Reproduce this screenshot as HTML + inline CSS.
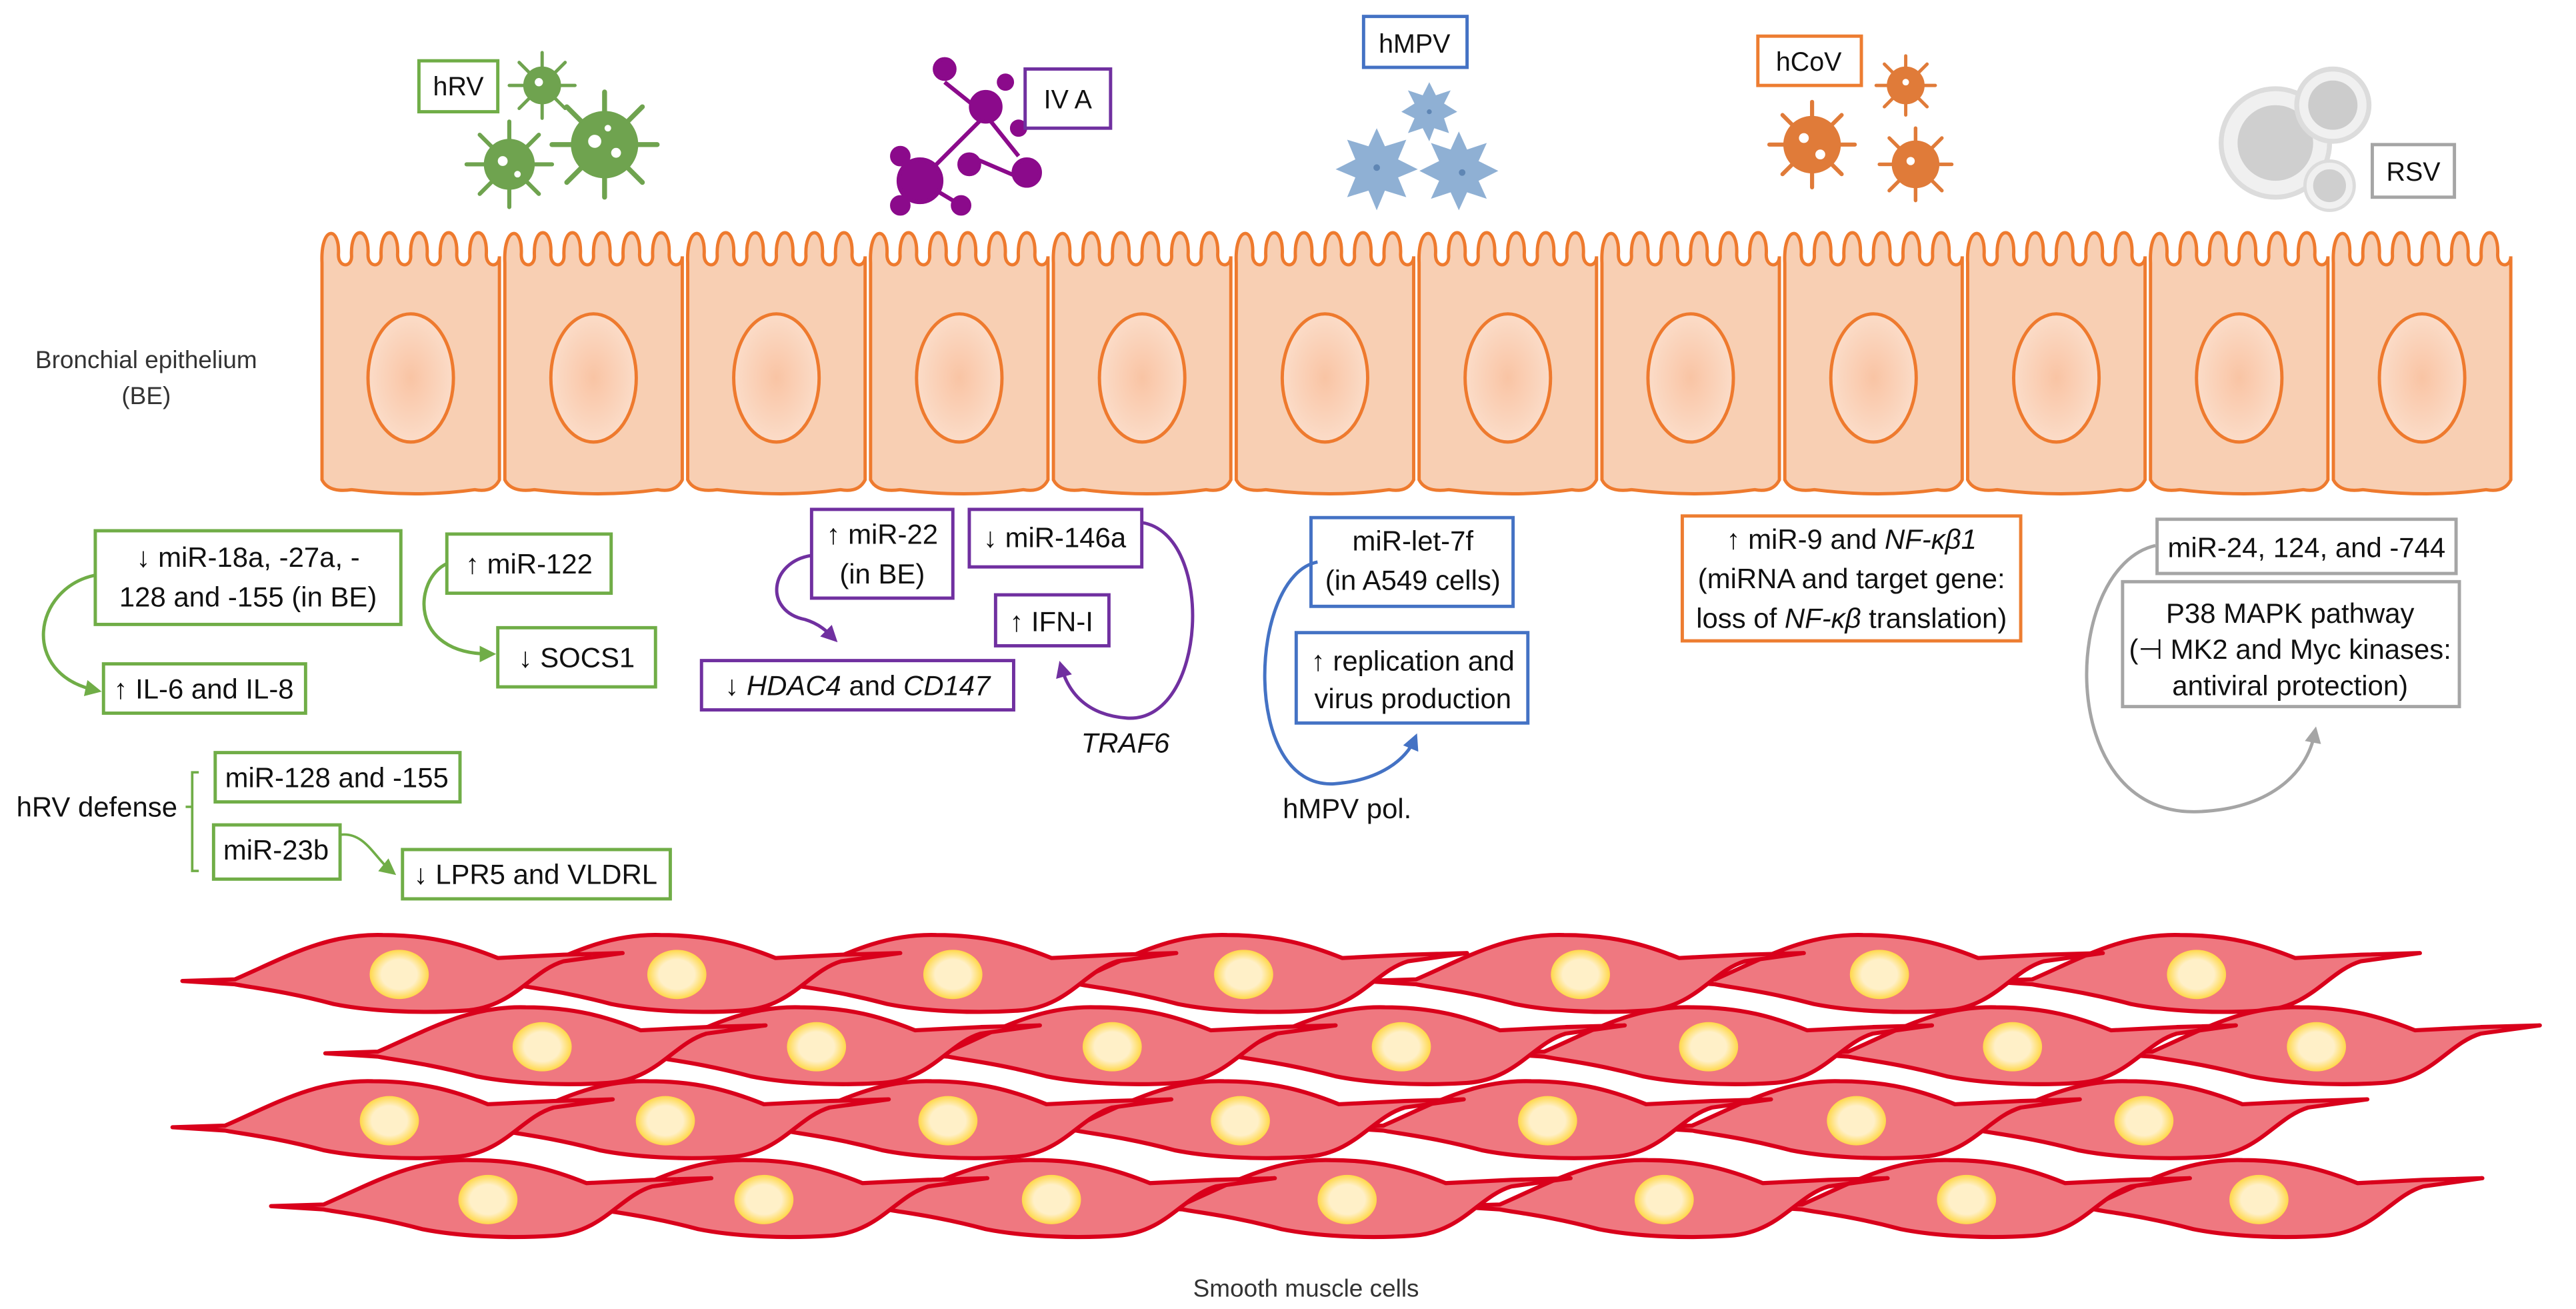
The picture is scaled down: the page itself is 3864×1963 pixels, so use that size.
<!DOCTYPE html>
<html><head><meta charset="utf-8"><style>
html,body{margin:0;padding:0;background:#fff;}
svg{display:block;}
text{font-family:"Liberation Sans",Arial,sans-serif;}
</style></head><body>
<svg width="3864" height="1963" viewBox="0 0 1568 796.6" preserveAspectRatio="none" xmlns="http://www.w3.org/2000/svg">
<defs>
<radialGradient id="nuc" cx="50%" cy="50%" r="50%"><stop offset="0" stop-color="#f9c4a4"/><stop offset="1" stop-color="#fbdcc8"/></radialGradient>
<radialGradient id="mnuc" cx="50%" cy="50%" r="50%"><stop offset="0.6" stop-color="#fff0c8"/><stop offset="1" stop-color="#ffd84a"/></radialGradient>
<g id="ecell">
<path d="M2,292 L2,160 C1,137 13,137 12,155 C12,163 20,163 20,156 C19,137 31,137 30,155 C30,163 38,163 38,156 C37,137 49,137 48,155 C48,163 56,163 56,156 C55,137 67,137 66,155 C66,163 74,163 74,156 C73,137 85,137 84,155 C84,163 92,163 92,156 C91,137 103,137 102,155 C102,163 110,163 110,156 L110,292 Q106,300 95,298 Q60,303 20,298 Q6,300 2,292 Z" fill="#f8cfb3" stroke="#ee7a2e" stroke-width="2"/>
<ellipse cx="56" cy="230" rx="26" ry="39" fill="url(#nuc)" stroke="#ee7a2e" stroke-width="2"/>
</g>
<g id="mcell">
<path d="M-132,4 L-100,3 C-70,-10 -45,-25 -10,-24 C20,-24 40,-18 60,-10 L100,-12 L136,-13 L100,-8 C80,-2 70,20 40,22 C10,24 -20,22 -40,18 C-70,10 -90,8 -100,6 Z" fill="#ef7880" stroke="#d9001b" stroke-width="2.5" stroke-linejoin="round"/>
<ellipse cx="0" cy="0" rx="18" ry="15" fill="url(#mnuc)"/>
</g>
<marker id="ag" markerWidth="10" markerHeight="10" refX="6" refY="5" orient="auto" markerUnits="userSpaceOnUse"><path d="M0,0 L10,5 L0,10 Z" fill="#70ad47"/></marker>
<marker id="ap" markerWidth="10" markerHeight="10" refX="6" refY="5" orient="auto" markerUnits="userSpaceOnUse"><path d="M0,0 L10,5 L0,10 Z" fill="#7030a0"/></marker>
<marker id="ab" markerWidth="10" markerHeight="10" refX="6" refY="5" orient="auto" markerUnits="userSpaceOnUse"><path d="M0,0 L10,5 L0,10 Z" fill="#4472c4"/></marker>
<marker id="ay" markerWidth="10" markerHeight="10" refX="6" refY="5" orient="auto" markerUnits="userSpaceOnUse"><path d="M0,0 L10,5 L0,10 Z" fill="#a5a5a5"/></marker>
</defs>

<use href="#ecell" x="194"/><use href="#ecell" x="305.3"/><use href="#ecell" x="416.6"/><use href="#ecell" x="527.9"/>
<use href="#ecell" x="639.2"/><use href="#ecell" x="750.5"/><use href="#ecell" x="861.8"/><use href="#ecell" x="973.1"/>
<use href="#ecell" x="1084.4"/><use href="#ecell" x="1195.7"/><use href="#ecell" x="1307"/><use href="#ecell" x="1418.3"/>

<text x="89" y="224" font-size="15" text-anchor="middle" fill="#333">Bronchial epithelium</text>
<text x="89" y="246" font-size="15" text-anchor="middle" fill="#333">(BE)</text>

<g fill="#6fa34f" stroke="#6fa34f" stroke-linecap="round">
<g transform="translate(330,52)"><g stroke-width="2"><line x1="-20" y1="0" x2="20" y2="0"/><line x1="0" y1="-20" x2="0" y2="20"/><line x1="-14" y1="-14" x2="14" y2="14"/><line x1="-14" y1="14" x2="14" y2="-14"/></g><circle r="11"/></g>
<g transform="translate(310,100)"><g stroke-width="2.5"><line x1="-26" y1="0" x2="26" y2="0"/><line x1="0" y1="-26" x2="0" y2="26"/><line x1="-18" y1="-18" x2="18" y2="18"/><line x1="-18" y1="18" x2="18" y2="-18"/></g><circle r="15"/></g>
<g transform="translate(368,88)"><g stroke-width="3"><line x1="-32" y1="0" x2="32" y2="0"/><line x1="0" y1="-32" x2="0" y2="32"/><line x1="-23" y1="-23" x2="23" y2="23"/><line x1="-23" y1="23" x2="23" y2="-23"/></g><circle r="20"/></g>
</g>
<g fill="#fff"><circle cx="328" cy="50" r="2.5"/><circle cx="306" cy="98" r="3"/><circle cx="315" cy="106" r="2"/><circle cx="362" cy="86" r="4"/><circle cx="375" cy="93" r="3"/><circle cx="370" cy="78" r="2"/></g>

<g fill="#8b0a8b" stroke="#8b0a8b" stroke-width="2.5">
<line x1="560" y1="110" x2="600" y2="70"/><line x1="600" y1="70" x2="620" y2="95"/><line x1="560" y1="110" x2="548" y2="125"/><line x1="590" y1="95" x2="625" y2="110"/><line x1="575" y1="50" x2="600" y2="70"/><line x1="560" y1="110" x2="585" y2="125"/>
<circle cx="560" cy="110" r="13"/><circle cx="600" cy="65" r="9"/><circle cx="575" cy="42" r="6"/><circle cx="590" cy="100" r="6"/><circle cx="625" cy="105" r="8"/><circle cx="548" cy="95" r="5"/><circle cx="548" cy="125" r="5"/><circle cx="585" cy="125" r="5"/><circle cx="612" cy="50" r="4"/><circle cx="620" cy="78" r="4"/>
</g>

<g fill="#8fb0d4">
<polygon points="870,50 874,58 883,55 879,63 887,68 879,72 882,81 873,78 870,86 866,78 857,81 861,72 853,68 861,63 857,55 866,58"/>
<polygon points="838,78 843,89 856,85 851,97 863,103 851,108 856,120 843,116 838,128 833,116 820,120 825,108 813,103 825,97 820,85 833,89"/>
<polygon points="888,80 893,91 905,87 900,98 912,104 900,110 905,121 893,117 888,128 883,117 871,121 876,110 864,104 876,98 871,87 883,91"/>
</g>
<g fill="#5f86b4"><circle cx="838" cy="102" r="2"/><circle cx="890" cy="105" r="2"/><circle cx="870" cy="68" r="1.5"/></g>

<g fill="#e07b39" stroke="#e07b39" stroke-linecap="round">
<g transform="translate(1103,88)"><g stroke-width="2.5"><line x1="-26" y1="0" x2="26" y2="0"/><line x1="0" y1="-26" x2="0" y2="26"/><line x1="-18" y1="-18" x2="18" y2="18"/><line x1="-18" y1="18" x2="18" y2="-18"/></g><circle r="17"/></g>
<g transform="translate(1160,52)"><g stroke-width="2"><line x1="-18" y1="0" x2="18" y2="0"/><line x1="0" y1="-18" x2="0" y2="18"/><line x1="-13" y1="-13" x2="13" y2="13"/><line x1="-13" y1="13" x2="13" y2="-13"/></g><circle r="11"/></g>
<g transform="translate(1166,100)"><g stroke-width="2.2"><line x1="-22" y1="0" x2="22" y2="0"/><line x1="0" y1="-22" x2="0" y2="22"/><line x1="-16" y1="-16" x2="16" y2="16"/><line x1="-16" y1="16" x2="16" y2="-16"/></g><circle r="14"/></g>
</g>
<g fill="#fff"><circle cx="1098" cy="84" r="3"/><circle cx="1108" cy="94" r="3"/><circle cx="1160" cy="50" r="2"/><circle cx="1163" cy="98" r="2.5"/></g>

<g>
<circle cx="1385" cy="87" r="33" fill="#f0f0f0" stroke="#dcdcdc" stroke-width="3"/><circle cx="1385" cy="87" r="23" fill="#cfcfcf"/>
<circle cx="1420" cy="64" r="22" fill="#f0f0f0" stroke="#dcdcdc" stroke-width="3"/><circle cx="1420" cy="64" r="15" fill="#cccccc"/>
<circle cx="1418" cy="113" r="15" fill="#f0f0f0" stroke="#dcdcdc" stroke-width="2"/><circle cx="1418" cy="113" r="10" fill="#cfcfcf"/>
</g>

<g fill="#fff" stroke-width="2">
<rect x="255" y="37" width="48" height="31" stroke="#70ad47"/>
<rect x="624" y="42" width="52" height="36" stroke="#7030a0"/>
<rect x="830" y="10" width="63" height="31" stroke="#4472c4"/>
<rect x="1070" y="22" width="63" height="30" stroke="#ed7d31"/>
<rect x="1444" y="88" width="50" height="32" stroke="#a5a5a5"/>
</g>
<g font-size="16" text-anchor="middle" fill="#111">
<text x="279" y="58">hRV</text><text x="650" y="66">IV A</text><text x="861" y="32">hMPV</text><text x="1101" y="43">hCoV</text><text x="1469" y="110">RSV</text>
</g>

<g fill="#fff" stroke-width="2">
<g stroke="#70ad47">
<rect x="58" y="323" width="186" height="57"/><rect x="63" y="404" width="123" height="30"/>
<rect x="272" y="325" width="100" height="36"/><rect x="303" y="382" width="96" height="36"/>
<rect x="131" y="458" width="149" height="30"/><rect x="130" y="502" width="77" height="33"/>
<rect x="245" y="517" width="163" height="30"/>
</g>
<g stroke="#7030a0">
<rect x="494" y="310" width="86" height="54"/><rect x="590" y="310" width="105" height="35"/>
<rect x="606" y="362" width="69" height="31"/><rect x="427" y="402" width="190" height="30"/>
</g>
<g stroke="#4472c4">
<rect x="798" y="315" width="123" height="54"/><rect x="789" y="385" width="141" height="55"/>
</g>
<rect x="1024" y="314" width="206" height="76" stroke="#ed7d31"/>
<g stroke="#a5a5a5">
<rect x="1313" y="316" width="182" height="33"/><rect x="1292" y="354" width="205" height="76"/>
</g>
</g>

<g font-size="17" text-anchor="middle" fill="#111">
<text x="151" y="345">↓ miR-18a, -27a, -</text>
<text x="151" y="369">128 and -155 (in BE)</text>
<text x="124" y="425">↑ IL-6 and IL-8</text>
<text x="322" y="349">↑ miR-122</text>
<text x="351" y="406">↓ SOCS1</text>
<text x="205" y="479">miR-128 and -155</text>
<text x="168" y="523">miR-23b</text>
<text x="326" y="538">↓ LPR5 and VLDRL</text>
<text x="537" y="331">↑ miR-22</text>
<text x="537" y="355">(in BE)</text>
<text x="642" y="333">↓ miR-146a</text>
<text x="640" y="384">↑ IFN-I</text>
<text x="522" y="423">↓ <tspan font-style="italic">HDAC4</tspan> and <tspan font-style="italic">CD147</tspan></text>
<text x="685" y="458" font-style="italic">TRAF6</text>
<text x="860" y="335">miR-let-7f</text>
<text x="860" y="359">(in A549 cells)</text>
<text x="860" y="408">↑ replication and</text>
<text x="860" y="431">virus production</text>
<text x="820" y="498">hMPV pol.</text>
<text x="1127" y="334">↑ miR-9 and <tspan font-style="italic">NF-κβ1</tspan></text>
<text x="1127" y="358">(miRNA and target gene:</text>
<text x="1127" y="382">loss of <tspan font-style="italic">NF-κβ</tspan> translation)</text>
<text x="1404" y="339">miR-24, 124, and -744</text>
<text x="1394" y="379">P38 MAPK pathway</text>
<text x="1394" y="401">(⊣ MK2 and Myc kinases:</text>
<text x="1394" y="423">antiviral protection)</text>
</g>
<text x="10" y="497" font-size="17" fill="#111">hRV defense</text>
<path d="M121,470 L117,470 L117,530 L121,530 M117,491 L113,491" fill="none" stroke="#70ad47" stroke-width="1.5"/>

<g fill="none" stroke-width="2">
<path d="M58,350 C20,358 12,410 58,420" stroke="#70ad47" marker-end="url(#ag)"/>
<path d="M272,343 C252,352 248,398 298,398" stroke="#70ad47" marker-end="url(#ag)"/>
<path d="M207,508 C222,506 228,522 238,530" stroke="#70ad47" stroke-width="1.5" marker-end="url(#ag)"/>
<path d="M494,338 C468,342 465,372 490,377 C500,380 505,386 507,388" stroke="#7030a0" marker-end="url(#ap)"/>
<path d="M695,318 C740,325 735,440 686,437 C660,435 650,420 646,406" stroke="#7030a0" marker-end="url(#ap)"/>
<path d="M802,342 C760,350 755,480 812,477 C840,475 856,462 861,450" stroke="#4472c4" marker-end="url(#ab)"/>
<path d="M1312,332 C1255,345 1250,495 1336,494 C1380,493 1404,472 1409,446" stroke="#a5a5a5" marker-end="url(#ay)"/>
</g>

<g>
<use href="#mcell" x="1337" y="593"/><use href="#mcell" x="1144" y="593"/><use href="#mcell" x="962" y="593"/><use href="#mcell" x="757" y="593"/><use href="#mcell" x="580" y="593"/><use href="#mcell" x="412" y="593"/><use href="#mcell" x="243" y="593"/>
<use href="#mcell" x="1410" y="637"/><use href="#mcell" x="1225" y="637"/><use href="#mcell" x="1040" y="637"/><use href="#mcell" x="853" y="637"/><use href="#mcell" x="677" y="637"/><use href="#mcell" x="497" y="637"/><use href="#mcell" x="330" y="637"/>
<use href="#mcell" x="1305" y="682"/><use href="#mcell" x="1130" y="682"/><use href="#mcell" x="942" y="682"/><use href="#mcell" x="755" y="682"/><use href="#mcell" x="577" y="682"/><use href="#mcell" x="405" y="682"/><use href="#mcell" x="237" y="682"/>
<use href="#mcell" x="1375" y="730"/><use href="#mcell" x="1197" y="730"/><use href="#mcell" x="1013" y="730"/><use href="#mcell" x="820" y="730"/><use href="#mcell" x="640" y="730"/><use href="#mcell" x="465" y="730"/><use href="#mcell" x="297" y="730"/>
</g>
<text x="795" y="789" font-size="15" text-anchor="middle" fill="#333">Smooth muscle cells</text>
</svg>
</body></html>
